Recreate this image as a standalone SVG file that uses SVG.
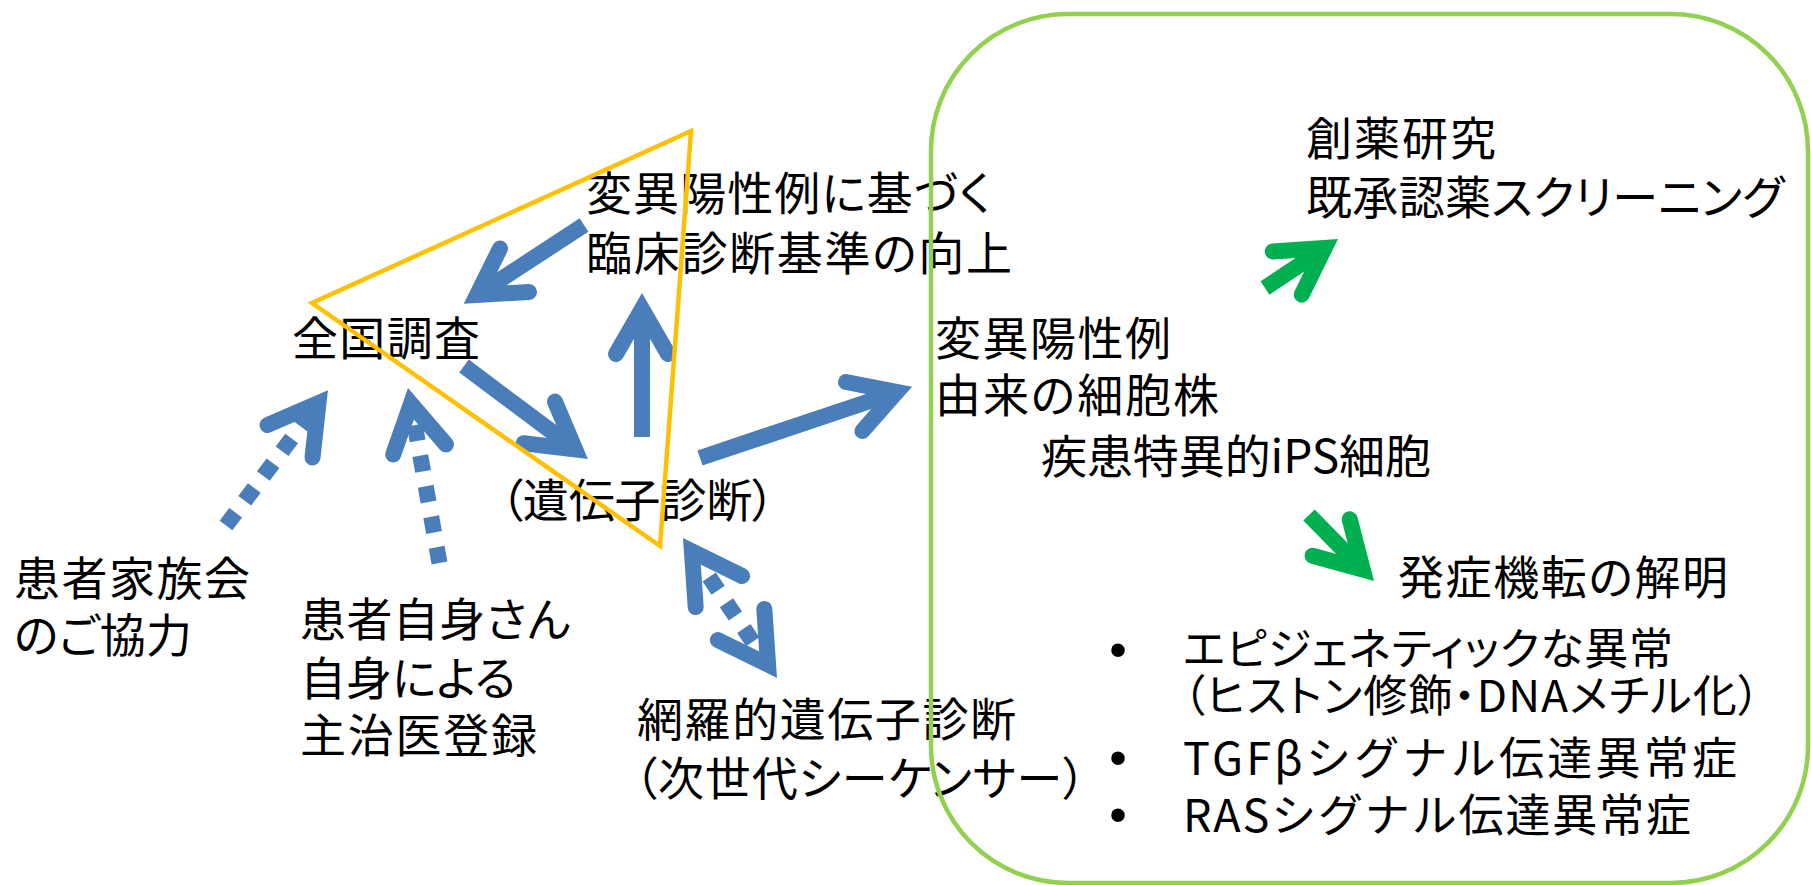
<svg xmlns="http://www.w3.org/2000/svg" width="1811" height="885" viewBox="0 0 1811 885">
<style>
.t{font-family:"Noto Sans CJK JP","Noto Sans",sans-serif;font-size:46px;fill:#000;font-feature-settings:"palt"}
.s{font-size:44px}
.np{font-size:45px;font-feature-settings:normal}
.b{font-family:"Liberation Sans",Arial,sans-serif;font-size:50px;fill:#000}
.sh{fill:none;stroke-width:16;stroke-linecap:butt}
.hd{fill:none;stroke-width:16;stroke-linecap:round;stroke-linejoin:miter;stroke-miterlimit:10}
.blue{stroke:#4A7EBB}
.grn{stroke:#00B050}
.dash{stroke-dasharray:16 15}
</style>
<rect width="1811" height="885" fill="#fff"/>
<g id="connectors">
  <g id="e-diag-to-survey">
    <path class="sh blue" d="M584,225 L477,295"/>
    <path class="hd blue" d="M500,248.5 L477,295 L529,292"/>
  </g>
  <g id="e-survey-to-genetic">
    <path class="sh blue" d="M464,366 L575,449"/>
    <path class="hd blue" d="M555,401.6 L575.2,449.4 L523.6,443.2"/>
  </g>
  <g id="e-genetic-to-diag">
    <path class="sh blue" d="M642,437 L642,309"/>
    <path class="hd blue" d="M616,354 L642,309 L668,354"/>
  </g>
  <g id="e-genetic-to-cells">
    <path class="sh blue" d="M700,458 L897,392"/>
    <path class="hd blue" d="M846,382 L896.8,392 L862.4,431"/>
  </g>
  <g id="e-family-to-survey">
    <path class="sh blue dash" d="M226,525.5 L318.5,403"/>
    <path class="hd blue" d="M267.5,425 L318.5,403 L312.5,457.5"/>
  </g>
  <g id="e-patient-to-survey">
    <path class="sh blue dash" d="M439.5,563 L411,404"/>
    <path class="hd blue" d="M393.2,454.5 L411,403.7 L446,444.5"/>
  </g>
  <g id="e-genetic-ngs">
    <path class="sh blue dash" d="M691.9,551.3 L768.1,664.7"/>
    <path class="hd blue" d="M695.7,607.1 L691.9,551.3 L742.1,576"/>
    <path class="hd blue" d="M764.3,608.9 L768.1,664.7 L717.9,640.1"/>
  </g>
  <g id="e-cells-to-drug">
    <path class="sh grn" d="M1265,288 L1325,248"/>
    <path class="hd grn" d="M1272.8,251.4 L1324.7,247.9 L1301.8,294.6"/>
  </g>
  <g id="e-cells-to-mech">
    <path class="sh grn" d="M1309,515 L1363,570"/>
    <path class="hd grn" d="M1349.7,519.3 L1362.8,569.6 L1312.6,555.8"/>
  </g>
</g>
<g id="n-diag">
  <text class="t" x="586" y="210" textLength="405">変異陽性例に基づく</text>
  <text class="t" x="586" y="270" textLength="426">臨床診断基準の向上</text>
</g>
<g id="n-survey"><text class="t" x="292" y="355" textLength="188">全国調査</text></g>
<g id="n-genetic"><text class="t" x="500" y="517" textLength="275">（遺伝子診断）</text></g>
<g id="n-family">
  <text class="t" x="14" y="595" textLength="236">患者家族会</text>
  <text class="t" x="14" y="652" textLength="178">のご協力</text>
</g>
<g id="n-patient">
  <text class="t" x="300" y="636" textLength="270">患者自身さん</text>
  <text class="t" x="300" y="695" textLength="216">自身による</text>
  <text class="t" x="300" y="752" textLength="237">主治医登録</text>
</g>
<g id="n-ngs">
  <text class="t" x="637" y="736" textLength="379">網羅的遺伝子診断</text>
  <text class="t" x="634" y="795" textLength="452">（次世代シーケンサー）</text>
</g>
<g id="n-cells">
  <text class="t" x="935" y="355" textLength="236">変異陽性例</text>
  <text class="t" x="935" y="412" textLength="284">由来の細胞株</text>
  <text class="t" x="1041" y="473" textLength="390">疾患特異的iPS細胞</text>
</g>
<g id="n-drug">
  <text class="t" x="1306" y="155" textLength="190">創薬研究</text>
  <text class="t" x="1306" y="214" textLength="478">既承認薬スクリーニング</text>
</g>
<g id="n-mech">
  <text class="t" x="1398" y="594" textLength="330">発症機転の解明</text>
  <text class="b" x="1118" y="667" text-anchor="middle">•</text>
  <text class="t s" x="1183" y="665" textLength="490">エピジェネティックな異常</text>
  <text class="t s" x="1183" y="712" textLength="577">（ヒストン修飾・DNAメチル化）</text>
  <text class="b" x="1118" y="775" text-anchor="middle">•</text>
  <text class="t np" x="1183" y="775" textLength="554">TGFβシグナル伝達異常症</text>
  <text class="b" x="1118" y="832" text-anchor="middle">•</text>
  <text class="t np" x="1183" y="832" textLength="508">RASシグナル伝達異常症</text>
</g>
<g id="triangle"><polygon points="691,131 312,303 660,546" fill="none" stroke="#FFC000" stroke-width="4.5" stroke-linejoin="miter"/></g>
<g id="research-box"><rect x="931" y="14" width="877" height="869" rx="137" ry="137" fill="none" stroke="#92D050" stroke-width="4.5"/></g>
</svg>
